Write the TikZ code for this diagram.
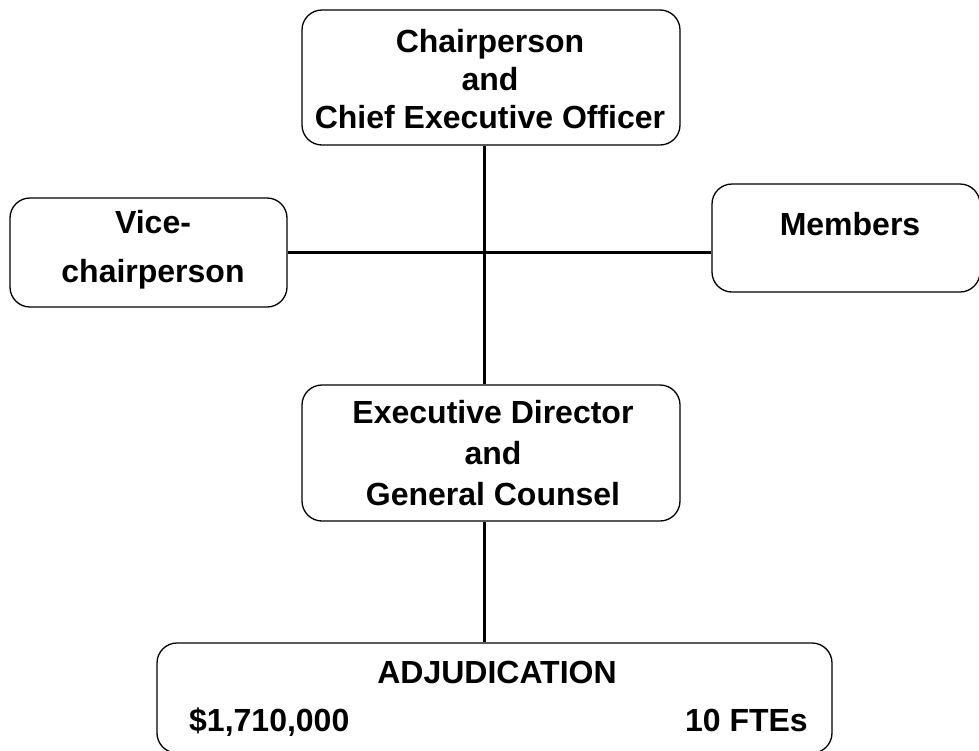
\documentclass[tikz,border=0pt]{standalone}
\usepackage{fontspec}
\setmainfont{Liberation Sans}[BoldFont={Liberation Sans Bold}]
\begin{document}
\begin{tikzpicture}[x=1pt,y=-1pt,
  box/.style={draw=black,line width=1.3pt,rounded corners=20pt,inner sep=0pt},
  conn/.style={draw=black,line width=3pt},
  lbl/.style={font=\fontsize{32}{38}\selectfont\bfseries,align=center,inner sep=0pt}]
\useasboundingbox (0,0) rectangle (979,750);
% boxes
\node[box,minimum width=378pt,minimum height=135pt] (chair) at (491,77.5) {};
\node[box,minimum width=277pt,minimum height=109pt] (vice) at (148.5,252.5) {};
\node[box,minimum width=268pt,minimum height=108pt] (memb) at (846,238) {};
\node[box,minimum width=378pt,minimum height=136pt] (exec) at (491,453) {};
\node[box,minimum width=675pt,minimum height=110pt] (adj) at (494.5,698) {};
% texts
\node[lbl] (tchair) at (490,79) {Chairperson\\and\\Chief Executive Officer};
\node[lbl,font=\fontsize{32}{49}\selectfont\bfseries] (tvice) at (153,250) {Vice-\\chairperson};
\node[lbl] (tmemb) at (850,224) {Members};
\node[lbl,font=\fontsize{32}{41}\selectfont\bfseries] (texec) at (493,453) {Executive Director\\and\\General Counsel};
\node[lbl] (tadj) at (497,672) {ADJUDICATION};
\node[lbl,anchor=base west] (tamt) at (189,731) {\$1,710,000};
\node[lbl,anchor=base east] (tfte) at (808,731) {10 FTEs};
% connectors
\draw[conn] (chair.south -| 484,0) -- (exec.north -| 484,0);
\draw[conn] (vice.east |- 0,252) -- (memb.west |- 0,252);
\draw[conn] (exec.south -| 484,0) -- (adj.north -| 484,0);
\end{tikzpicture}
\end{document}
